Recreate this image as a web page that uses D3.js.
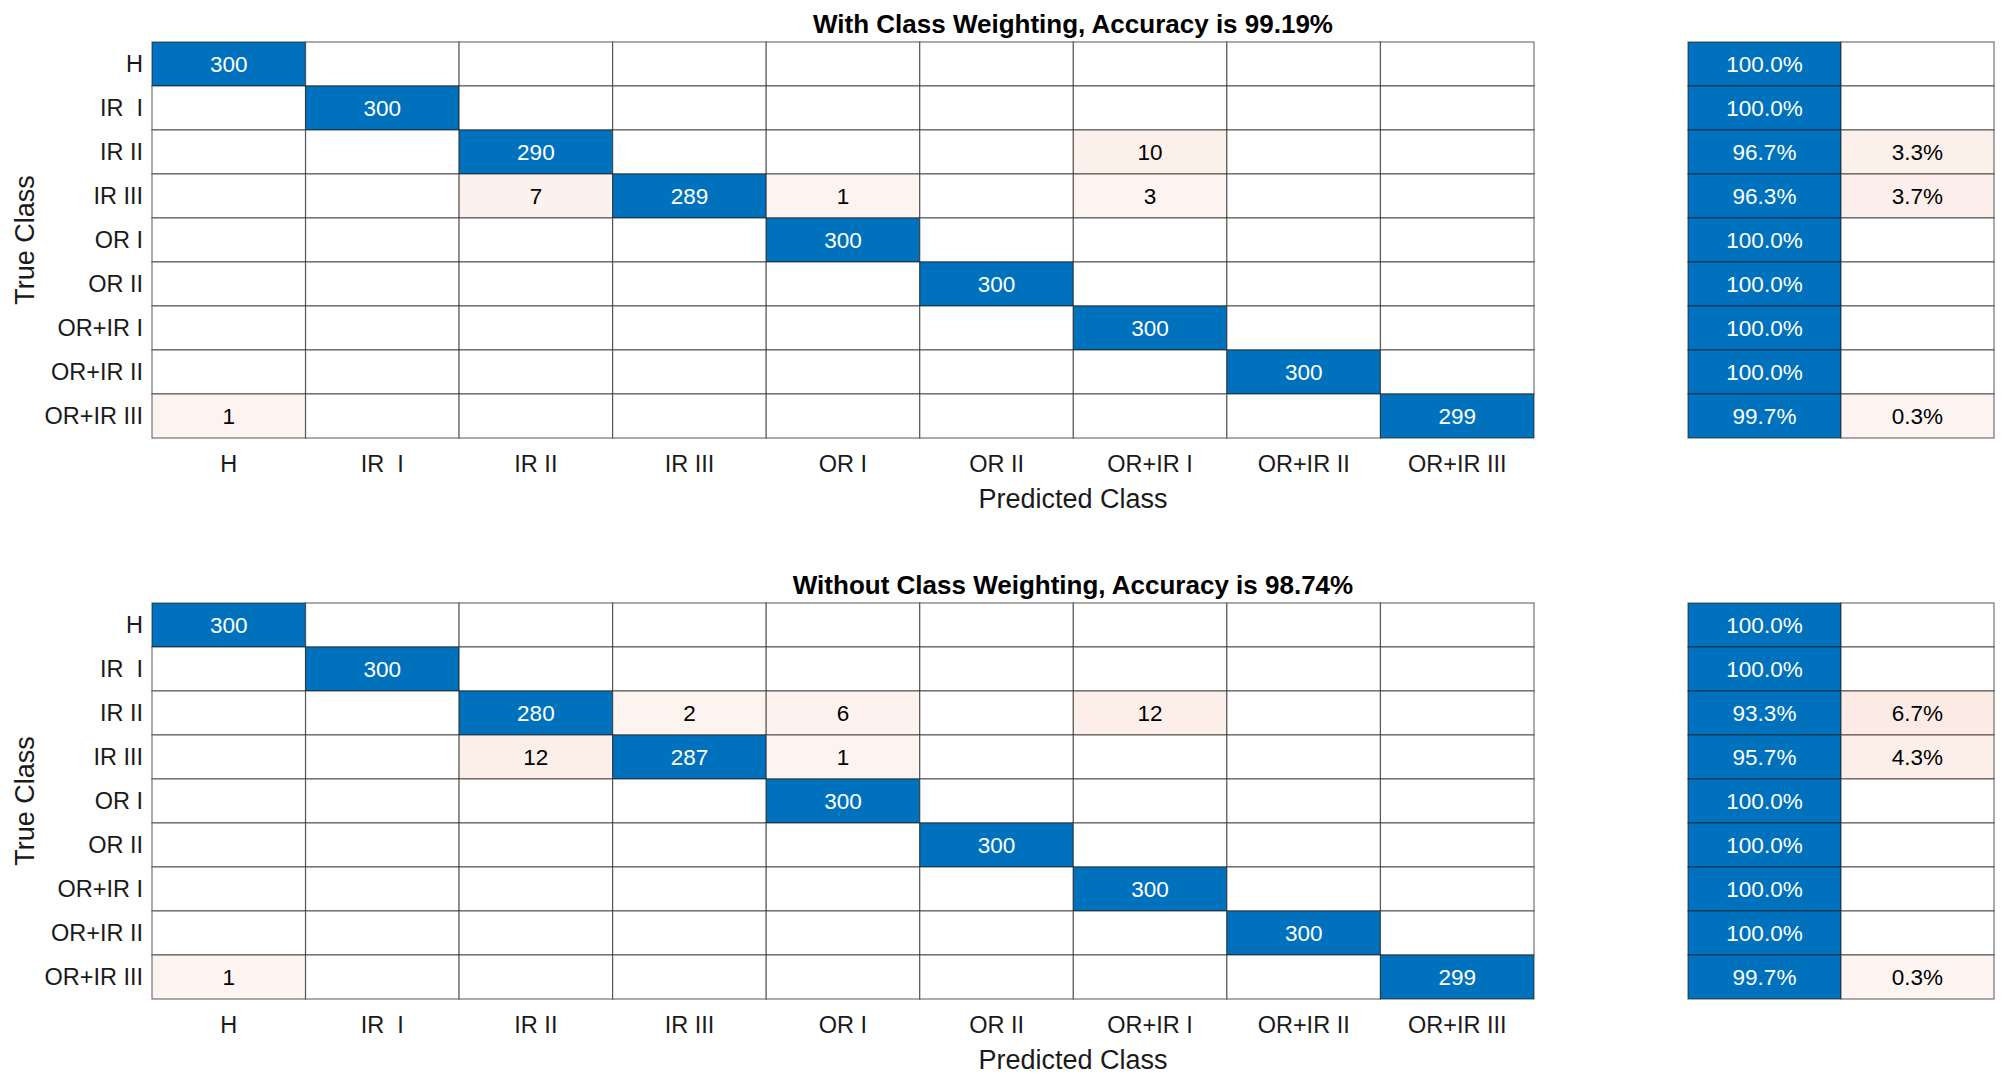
<!DOCTYPE html>
<html>
<head>
<meta charset="utf-8">
<script src="https://cdn.jsdelivr.net/npm/d3@7"></script>
<style>
  body { margin: 0; background: #fff; }
  svg text { font-family: "Liberation Sans", Arial, sans-serif; white-space: pre; }
</style>
</head>
<body>
<div id="chart"></div>
<script>
const W = 2014, H = 1083;

const classes = ["H", "IR  I", "IR II", "IR III", "OR I", "OR II", "OR+IR I", "OR+IR II", "OR+IR III"];

// rows = true class, columns = predicted class
const withWeighting = [
  [300,   0,   0,   0,   0,   0,   0,   0,   0],
  [  0, 300,   0,   0,   0,   0,   0,   0,   0],
  [  0,   0, 290,   0,   0,   0,  10,   0,   0],
  [  0,   0,   7, 289,   1,   0,   3,   0,   0],
  [  0,   0,   0,   0, 300,   0,   0,   0,   0],
  [  0,   0,   0,   0,   0, 300,   0,   0,   0],
  [  0,   0,   0,   0,   0,   0, 300,   0,   0],
  [  0,   0,   0,   0,   0,   0,   0, 300,   0],
  [  1,   0,   0,   0,   0,   0,   0,   0, 299]
];

const withoutWeighting = [
  [300,   0,   0,   0,   0,   0,   0,   0,   0],
  [  0, 300,   0,   0,   0,   0,   0,   0,   0],
  [  0,   0, 280,   2,   6,   0,  12,   0,   0],
  [  0,   0,  12, 287,   1,   0,   0,   0,   0],
  [  0,   0,   0,   0, 300,   0,   0,   0,   0],
  [  0,   0,   0,   0,   0, 300,   0,   0,   0],
  [  0,   0,   0,   0,   0,   0, 300,   0,   0],
  [  0,   0,   0,   0,   0,   0,   0, 300,   0],
  [  1,   0,   0,   0,   0,   0,   0,   0, 299]
];

const titles = [
  "With Class Weighting, Accuracy is 99.19%",
  "Without Class Weighting, Accuracy is 98.74%"
];

const BLUE = "#0072BD";
const offColor = d3.scaleLinear().domain([0, 1]).range([0.06, 0.85]).clamp(true);
const pink = t => d3.interpolateRgb("#ffffff", "#E2501C")(offColor(t));

const svg = d3.select("#chart").append("svg")
  .attr("width", W).attr("height", H);

const gridLeft = 152, gridRight = 1534, sumLeft = 1688, sumRight = 1994;
const fullCenter = (gridLeft + sumRight) / 2;
const rowH = 44;
const panelTops = [42, 603];
const FS = 22.5, TICK_FS = 23.5, LABEL_FS = 27;
const LINE = "rgba(30,30,30,0.62)";

function drawPanel(matrix, title, top) {
  const bottom = top + rowH * classes.length;
  const x = d3.scaleBand().domain(classes).range([gridLeft, gridRight]);
  const y = d3.scaleBand().domain(classes).range([top, bottom]);
  const xs = d3.scaleBand().domain(["correct", "wrong"]).range([sumLeft, sumRight]);
  const g = svg.append("g");

  const cells = [];
  matrix.forEach((row, i) => row.forEach((v, j) => cells.push({ r: classes[i], c: classes[j], v, diag: i === j })));

  const cg = g.selectAll("g.cell").data(cells).enter().append("g").attr("class", "cell");
  cg.append("rect")
    .attr("x", d => x(d.c)).attr("y", d => y(d.r))
    .attr("width", x.bandwidth()).attr("height", y.bandwidth())
    .attr("fill", d => d.v === 0 ? "#fff" : d.diag ? BLUE : pink(d.v / 300))
    .attr("stroke", LINE).attr("stroke-width", 1.2);
  cg.filter(d => d.v > 0).append("text")
    .attr("x", d => x(d.c) + x.bandwidth() / 2)
    .attr("y", d => y(d.r) + y.bandwidth() / 2)
    .attr("dy", "0.36em").attr("text-anchor", "middle")
    .attr("font-size", FS)
    .attr("fill", d => d.diag ? "#fff" : "#000")
    .text(d => d.v);

  // row summary (row-normalized)
  const summary = [];
  matrix.forEach((row, i) => {
    const total = d3.sum(row);
    const correct = row[i] / total;
    summary.push({ r: classes[i], k: "correct", f: correct });
    summary.push({ r: classes[i], k: "wrong", f: 1 - correct });
  });
  const sg = g.selectAll("g.sum").data(summary).enter().append("g").attr("class", "sum");
  sg.append("rect")
    .attr("x", d => xs(d.k)).attr("y", d => y(d.r))
    .attr("width", xs.bandwidth()).attr("height", y.bandwidth())
    .attr("fill", d => d.f < 1e-9 ? "#fff" : d.k === "correct" ? BLUE : pink(d.f))
    .attr("stroke", LINE).attr("stroke-width", 1.2);
  sg.filter(d => d.f > 1e-9).append("text")
    .attr("x", d => xs(d.k) + xs.bandwidth() / 2)
    .attr("y", d => y(d.r) + y.bandwidth() / 2)
    .attr("dy", "0.36em").attr("text-anchor", "middle")
    .attr("font-size", FS)
    .attr("fill", d => d.k === "correct" ? "#fff" : "#000")
    .text(d => (d.f * 100).toFixed(1) + "%");

  // axes
  const yAxis = g.append("g")
    .attr("transform", "translate(" + gridLeft + ",0)")
    .call(d3.axisLeft(y).tickSize(0).tickPadding(9));
  const xAxis = g.append("g")
    .attr("transform", "translate(0," + bottom + ")")
    .call(d3.axisBottom(x).tickSize(0).tickPadding(17));
  [xAxis, yAxis].forEach(a => {
    a.select(".domain").remove();
    a.selectAll("text").attr("font-size", TICK_FS).attr("fill", "#1a1a1a")
      .style("font-family", "'Liberation Sans', Arial, sans-serif");
  });

  g.append("text")
    .attr("x", fullCenter).attr("y", top - 9)
    .attr("text-anchor", "middle").attr("font-size", 26).attr("font-weight", "bold")
    .attr("fill", "#000")
    .text(title);

  g.append("text")
    .attr("x", fullCenter).attr("y", bottom + 70)
    .attr("text-anchor", "middle").attr("font-size", LABEL_FS).attr("fill", "#1a1a1a")
    .text("Predicted Class");

  g.append("text")
    .attr("transform", "translate(34," + (top + bottom) / 2 + ") rotate(-90)")
    .attr("text-anchor", "middle").attr("font-size", LABEL_FS).attr("fill", "#1a1a1a")
    .text("True Class");
}

drawPanel(withWeighting, titles[0], panelTops[0]);
drawPanel(withoutWeighting, titles[1], panelTops[1]);
</script>
</body>
</html>
